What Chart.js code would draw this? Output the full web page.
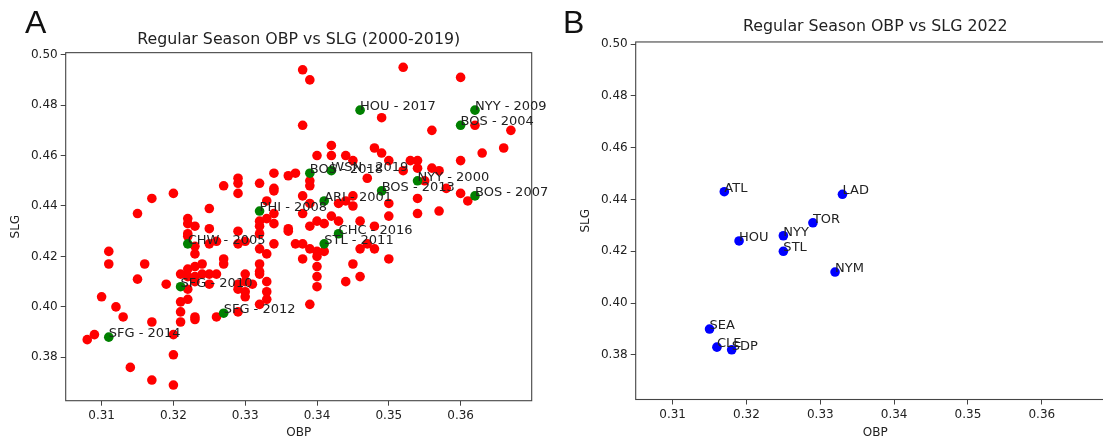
<!DOCTYPE html>
<html>
<head>
<meta charset="utf-8">
<script src="https://cdn.jsdelivr.net/npm/chart.js@4.4.1/dist/chart.umd.min.js"></script>
<style>
  html, body { margin: 0; padding: 0; background: #fff; overflow: hidden; }
  #wrap { position: relative; width: 1103px; height: 442px; overflow: hidden; }
  canvas { position: absolute; top: 0; }
  #left { left: 0; }
  #right { left: 560px; }
</style>
</head>
<body>
<div id="wrap">
  <canvas id="left" width="560" height="442"></canvas>
  <canvas id="right" width="600" height="442"></canvas>
</div>
<script>
const xTicks = [0.31, 0.32, 0.33, 0.34, 0.35, 0.36];
const yTicks = [0.38, 0.40, 0.42, 0.44, 0.46, 0.48, 0.50];

// 2000-2019 regular seasons (non-champions)
const redObp = [
  0.338, 0.339, 0.338, 0.352, 0.360, 0.349, 0.362, 0.356, 0.367, 0.366, 0.363, 0.360,
  0.340, 0.342, 0.342, 0.344, 0.348, 0.349, 0.345, 0.350, 0.353, 0.354,
  0.339, 0.339, 0.337, 0.336, 0.334, 0.334, 0.334, 0.332, 0.329, 0.329, 0.329, 0.327,
  0.325, 0.320, 0.317, 0.315, 0.322, 0.338, 0.338, 0.339, 0.333, 0.334,
  0.347, 0.352, 0.354, 0.356, 0.357, 0.355, 0.358, 0.360, 0.361, 0.345, 0.343, 0.344,
  0.350, 0.354, 0.357, 0.354, 0.350, 0.345, 0.342, 0.343, 0.340, 0.341, 0.339, 0.348, 0.346,
  0.338, 0.339, 0.340, 0.341, 0.340, 0.338, 0.346, 0.347, 0.348, 0.350, 0.345,
  0.340, 0.340, 0.340, 0.346, 0.344, 0.339,
  0.322, 0.323, 0.322, 0.322, 0.323, 0.323, 0.325, 0.325, 0.326, 0.329, 0.329, 0.330,
  0.332, 0.332, 0.332, 0.333, 0.334, 0.332, 0.333, 0.334, 0.336, 0.336, 0.337,
  0.311, 0.311, 0.316, 0.315, 0.310, 0.312, 0.313, 0.308, 0.309, 0.317, 0.320, 0.320,
  0.314, 0.317, 0.320, 0.319, 0.321, 0.322, 0.323, 0.324, 0.321, 0.321, 0.321,
  0.322, 0.322, 0.322, 0.323, 0.324, 0.325, 0.326, 0.327, 0.327, 0.323, 0.325,
  0.323, 0.323, 0.326, 0.329, 0.329, 0.330, 0.330, 0.329, 0.330, 0.330, 0.331,
  0.332, 0.332, 0.332, 0.333, 0.333, 0.333, 0.332
];
const redSlg = [
  0.494, 0.490, 0.472, 0.495, 0.491, 0.475, 0.472, 0.470, 0.470, 0.463, 0.461, 0.458,
  0.460, 0.464, 0.460, 0.460, 0.463, 0.461, 0.458, 0.458, 0.458, 0.458,
  0.450, 0.448, 0.453, 0.452, 0.453, 0.447, 0.446, 0.449, 0.451, 0.449, 0.445, 0.448,
  0.439, 0.445, 0.443, 0.437, 0.435, 0.444, 0.437, 0.441, 0.442, 0.437,
  0.451, 0.454, 0.455, 0.455, 0.454, 0.450, 0.447, 0.445, 0.442, 0.444, 0.441, 0.442,
  0.441, 0.443, 0.438, 0.437, 0.436, 0.440, 0.436, 0.434, 0.434, 0.433, 0.432, 0.432, 0.434,
  0.425, 0.423, 0.422, 0.422, 0.420, 0.419, 0.423, 0.425, 0.423, 0.419, 0.417,
  0.416, 0.412, 0.408, 0.412, 0.410, 0.401,
  0.433, 0.432, 0.429, 0.428, 0.424, 0.421, 0.431, 0.425, 0.426, 0.430, 0.425, 0.426,
  0.434, 0.432, 0.429, 0.435, 0.433, 0.423, 0.421, 0.425, 0.431, 0.430, 0.425,
  0.422, 0.417, 0.417, 0.411, 0.404, 0.400, 0.396, 0.387, 0.389, 0.394, 0.389, 0.381,
  0.376, 0.371, 0.369, 0.409, 0.413, 0.415, 0.416, 0.417, 0.402, 0.398, 0.394,
  0.403, 0.407, 0.412, 0.412, 0.413, 0.413, 0.413, 0.419, 0.417, 0.410, 0.409,
  0.396, 0.395, 0.396, 0.398, 0.407, 0.406, 0.404, 0.409, 0.413, 0.410, 0.409,
  0.417, 0.414, 0.413, 0.410, 0.406, 0.403, 0.401
];

// World Series winners
const champTeams = ["SFG - 2014", "SFG - 2010", "SFG - 2012", "CHW - 2005", "PHI - 2008",
  "STL - 2011", "CHC - 2016", "ARI - 2001", "BOS - 2018", "WSN - 2019", "BOS - 2013",
  "NYY - 2000", "BOS - 2007", "BOS - 2004", "NYY - 2009", "HOU - 2017"];
const champObp = [0.311, 0.321, 0.327, 0.322, 0.332, 0.341, 0.343, 0.341, 0.339, 0.342,
  0.349, 0.354, 0.362, 0.360, 0.362, 0.346];
const champSlg = [0.388, 0.408, 0.3975, 0.425, 0.438, 0.425, 0.429, 0.442, 0.453, 0.454,
  0.446, 0.450, 0.444, 0.472, 0.478, 0.478];

// 2022 playoff teams
const teams2022 = ["ATL", "LAD", "TOR", "NYY", "HOU", "STL", "NYM", "SEA", "CLE", "SDP"];
const obp2022 = [0.317, 0.333, 0.329, 0.325, 0.319, 0.325, 0.332, 0.315, 0.316, 0.318];
const slg2022 = [0.443, 0.442, 0.431, 0.426, 0.424, 0.420, 0.412, 0.390, 0.383, 0.382];

const FONT = "'DejaVu Sans', sans-serif";
const TEXT = "#222";
const pts = (xs, ys) => xs.map((x, i) => ({ x, y: ys[i] }));

// frame + panel letter + point labels
const decorations = {
  id: "decorations",
  afterDatasetsDraw(chart, args, opts) {
    const { ctx, chartArea: a } = chart;
    ctx.save();
    ctx.strokeStyle = "#444";
    ctx.lineWidth = 1.1;
    ctx.strokeRect(a.left, a.top, a.right - a.left, a.bottom - a.top);

    ctx.fillStyle = TEXT;
    ctx.font = "13px " + FONT;
    ctx.textAlign = "left";
    ctx.textBaseline = "alphabetic";
    chart.data.datasets.forEach((ds, i) => {
      if (!ds.labels) return;
      chart.getDatasetMeta(i).data.forEach((p, j) => ctx.fillText(ds.labels[j], p.x, p.y));
    });

    ctx.font = "32px 'Liberation Sans', Arial, sans-serif";
    ctx.fillStyle = "#111";
    ctx.fillText(opts.letter, opts.lx, 33);
    ctx.restore();
  },
};

function scales(yWidth, xHeight, yTitlePad) {
  const tickFont = { family: FONT, size: 12 };
  const grid = { drawOnChartArea: false, drawTicks: true, tickLength: 5, tickColor: "#444", tickWidth: 1 };
  return {
    x: {
      type: "linear", min: 0.305, max: 0.3699,
      afterBuildTicks: (s) => { s.ticks = xTicks.map((v) => ({ value: v })); },
      afterFit: (s) => { s.height = xHeight; },
      grid, border: { display: false },
      ticks: { color: TEXT, font: tickFont, padding: 3, autoSkip: false, maxRotation: 0, callback: (v) => v.toFixed(2) },
      title: { display: true, text: "OBP", color: TEXT, font: tickFont, padding: { top: 0, bottom: 1.8 } },
    },
    y: {
      type: "linear", min: 0.3628, max: 0.5008,
      afterBuildTicks: (s) => { s.ticks = yTicks.map((v) => ({ value: v })); },
      afterFit: (s) => { s.width = yWidth; },
      grid, border: { display: false },
      ticks: { color: TEXT, font: tickFont, padding: 3, autoSkip: false, callback: (v) => v.toFixed(2) },
      title: { display: true, text: "SLG", color: TEXT, font: tickFont, padding: { top: yTitlePad, bottom: 0 } },
    },
  };
}

function titleOpts(text, top, bottom) {
  return {
    display: true, text, fullSize: false, color: TEXT,
    font: { family: FONT, size: 15.8, weight: "normal" },
    padding: { top, bottom },
  };
}

new Chart(document.getElementById("left"), {
  type: "scatter",
  data: {
    datasets: [
      { data: pts(champObp, champSlg), labels: champTeams, backgroundColor: "green", pointRadius: 4.8, borderWidth: 0, order: 0 },
      { data: pts(redObp, redSlg), backgroundColor: "red", pointRadius: 4.8, borderWidth: 0, order: 1 },
    ],
  },
  options: {
    responsive: false, animation: false,
    layout: { padding: { left: 0, right: 28.3, top: 0, bottom: 0 } },
    plugins: {
      legend: { display: false }, tooltip: { enabled: false },
      title: titleOpts("Regular Season OBP vs SLG (2000-2019)", 30.5, 3.2),
      decorations: { letter: "A", lx: 25 },
    },
    scales: scales(65.7, 41.3, 8.8),
  },
  plugins: [decorations],
});

new Chart(document.getElementById("right"), {
  type: "scatter",
  data: {
    datasets: [
      { data: pts(obp2022, slg2022), labels: teams2022, backgroundColor: "blue", pointRadius: 4.8, borderWidth: 0 },
    ],
  },
  options: {
    responsive: false, animation: false,
    layout: { padding: { left: 0, right: 45.1, top: 0, bottom: 0 } },
    plugins: {
      legend: { display: false }, tooltip: { enabled: false },
      title: titleOpts("Regular Season OBP vs SLG 2022", 17.5, 5.5),
      decorations: { letter: "B", lx: 3 },
    },
    scales: scales(75.7, 42.5, 18.3),
  },
  plugins: [decorations],
});
</script>
</body>
</html>
